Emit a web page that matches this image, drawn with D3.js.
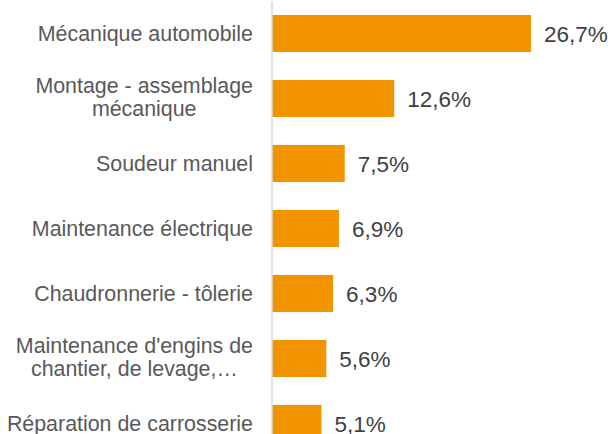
<!DOCTYPE html>
<html>
<head>
<meta charset="utf-8">
<script src="https://cdn.jsdelivr.net/npm/d3@7"></script>
<style>
  html, body { margin: 0; padding: 0; background: #fff; overflow: hidden; }
  svg { display: block; }
</style>
</head>
<body>
<svg id="chart" width="613" height="434"></svg>
<script>
const categories = [
  ["Mécanique automobile"],
  ["Montage - assemblage", "mécanique"],
  ["Soudeur manuel"],
  ["Maintenance électrique"],
  ["Chaudronnerie - tôlerie"],
  ["Maintenance d'engins de", "chantier, de levage,…"],
  ["Réparation de carrosserie"]
];
const values = [26.7, 12.6, 7.5, 6.9, 6.3, 5.6, 5.1];
const valueLabels = ["26,7%", "12,6%", "7,5%", "6,9%", "6,3%", "5,6%", "5,1%"];

const svg = d3.select("#chart");
const ids = d3.range(values.length);

const x = d3.scaleLinear().domain([0, 30]).range([272, 563]);
const y = d3.scaleBand().domain(ids).range([1, 456]).paddingInner(0.43).paddingOuter(0.215);

// bars
svg.append("g").selectAll("rect")
  .data(ids)
  .join("rect")
  .attr("x", x(0))
  .attr("y", i => y(i))
  .attr("width", i => x(values[i]) - x(0))
  .attr("height", y.bandwidth())
  .attr("fill", "#F29400");

// axis line
const axis = svg.append("g")
  .attr("transform", `translate(${x(0) - 0.5},0)`)
  .call(d3.axisLeft(y).tickSize(0).tickFormat(""));
axis.select(".domain").attr("stroke", "#d9d9d9").attr("stroke-width", 1.5);

// category labels
const labelRight = 253;
const lab = svg.append("g")
  .attr("font-family", "'Liberation Sans', Arial, sans-serif")
  .attr("font-size", 21.4)
  .attr("fill", "#595959");

ids.forEach(i => {
  const lines = categories[i];
  const cy = y(i) + y.bandwidth() / 2;
  if (lines.length === 1) {
    lab.append("text")
      .attr("x", labelRight)
      .attr("y", cy + 7.5)
      .attr("text-anchor", "end")
      .text(lines[0]);
  } else {
    const t = lab.append("text").attr("text-anchor", "middle");
    lines.forEach((ln, k) => {
      t.append("tspan").attr("x", 0).attr("y", cy - 6 + k * 23).text(ln);
    });
    const w = t.node().getBBox().width;
    t.selectAll("tspan").attr("x", labelRight - w / 2);
  }
});

// value labels
svg.append("g")
  .attr("font-family", "'Liberation Sans', Arial, sans-serif")
  .attr("font-size", 22.5)
  .attr("fill", "#404040")
  .selectAll("text")
  .data(ids)
  .join("text")
  .attr("x", i => x(values[i]) + 13)
  .attr("y", i => y(i) + y.bandwidth() / 2 + 8)
  .text(i => valueLabels[i]);
</script>
</body>
</html>
